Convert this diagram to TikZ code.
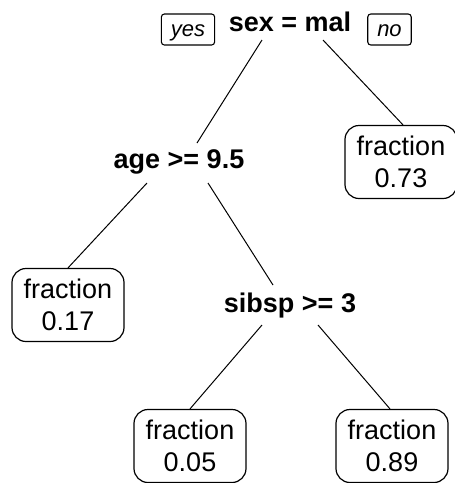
\documentclass[tikz,border=0pt]{standalone}
\usepackage{fontspec}
\setmainfont{Liberation Sans}
\begin{document}
\begin{tikzpicture}[x=1pt,y=-1pt,
  splitlab/.style={inner sep=0pt,anchor=base,font=\fontsize{27}{32}\selectfont\bfseries},
  leafbox/.style={draw,line width=1.2pt,rounded corners=14pt,align=center,
    minimum width=112pt,minimum height=73pt,inner sep=0pt,
    font=\fontsize{27}{32}\selectfont},
  yesno/.style={draw,line width=1.1pt,rounded corners=3pt,inner xsep=9.5pt,inner ysep=0pt,
    text height=19pt,text depth=5pt,minimum height=31pt,
    font=\fontsize{22}{26}\selectfont\itshape},
  branch/.style={line width=1pt}]
\useasboundingbox (0,0) rectangle (455,483);
% split labels
\node[splitlab] (root) at (290,31) {sex = mal};
\node[splitlab] (age) at (179,168) {age >= 9.5};
\node[splitlab] (sibsp) at (290,312) {sibsp >= 3};
% yes / no
\node[yesno] (yes) at (188,29.5) {yes};
\node[yesno] (no) at (389.5,29.5) {no};
% leaves
\node[leafbox] (l073) at (401,162) {fraction\\0.73};
\node[leafbox] (l017) at (68,305) {fraction\\0.17};
\node[leafbox] (l005) at (190,446) {fraction\\0.05};
\node[leafbox] (l089) at (392,446) {fraction\\0.89};
% branches
\draw[branch] ([shift={(-28,9)}]root.base) -- ([shift={(18,-25)}]age.base);
\draw[branch] ([shift={(33,9)}]root.base) -- ([xshift=2pt]l073.north);
\draw[branch] ([shift={(-32,15)}]age.base) -- (l017.north);
\draw[branch] ([shift={(29,15)}]age.base) -- ([shift={(-17,-27)}]sibsp.base);
\draw[branch] ([shift={(-28,13)}]sibsp.base) -- (l005.north);
\draw[branch] ([shift={(28,13)}]sibsp.base) -- ([xshift=-2pt]l089.north);
\end{tikzpicture}
\end{document}
